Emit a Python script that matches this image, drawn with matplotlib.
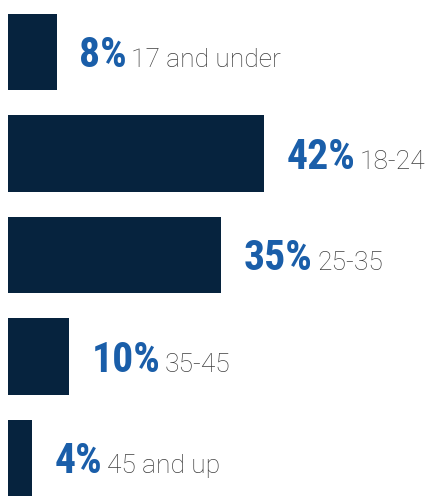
import matplotlib.pyplot as plt

groups = ["17 and under", "18-24", "25-35", "35-45", "45 and up"]
shares = [8, 42, 35, 10, 4]

navy = "#06233e"
blue = "#1a5ea9"
grey = "#3f3f3f"

fig = plt.figure(figsize=(4.27, 4.96), dpi=100)
ax = fig.add_axes([0, 0, 1, 1])

ypos = list(range(len(shares)))
ax.barh(ypos, shares, height=0.75, color=navy)

for i, v in enumerate(shares):
    base = i + 0.15
    t1 = ax.text(v + 3.7, base, f"{v}%", color=blue, fontsize=30,
                 family="Roboto Condensed", weight="bold", va="baseline")
    ax.annotate(groups[i], xy=(1, base), xycoords=(t1, "data"),
                xytext=(3, 0), textcoords="offset points",
                color=grey, fontsize=19, family="Roboto", weight="light",
                va="baseline")

ax.set_xlim(-8 / 6.1, (427 - 8) / 6.1)
ax.set_ylim(4.374, -0.512)
ax.axis("off")

fig.savefig("out.png", dpi=100)
